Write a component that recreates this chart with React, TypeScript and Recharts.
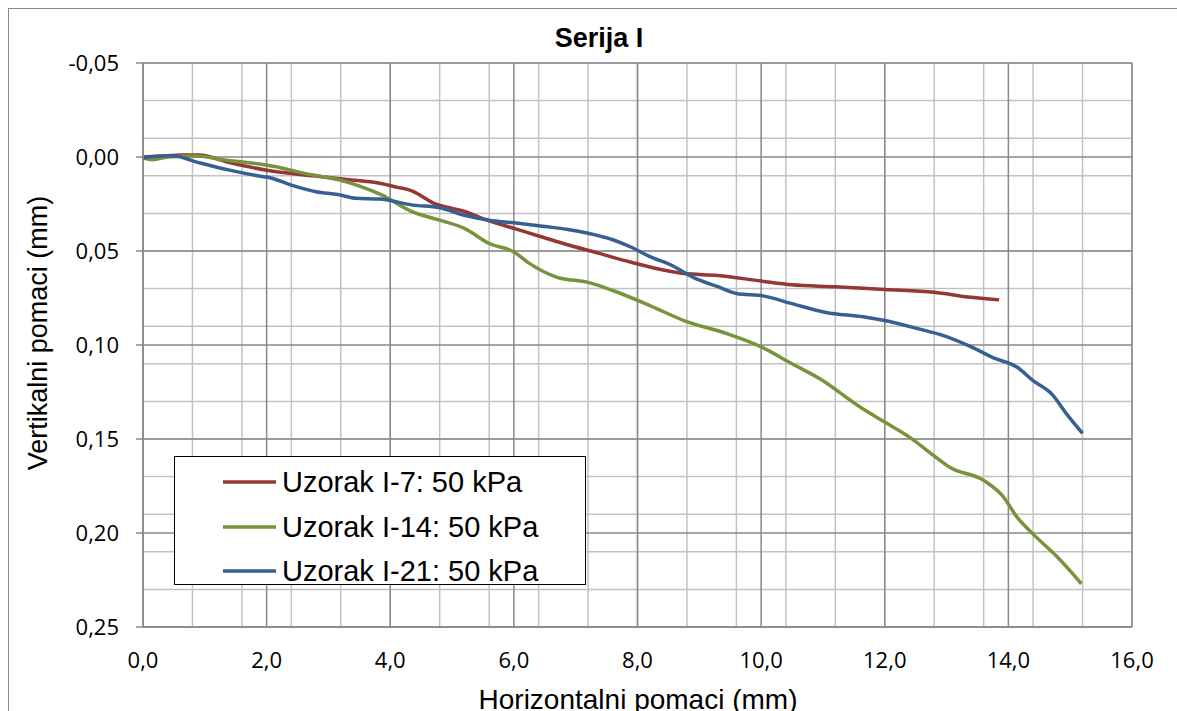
import React from "react";
import { LineChart, Line, XAxis, YAxis, CartesianGrid, Legend } from "recharts";

// ---- data ----
const seriesNames = ["Uzorak I-7: 50 kPa", "Uzorak I-14: 50 kPa", "Uzorak I-21: 50 kPa"];
const seriesColors = ["#953735", "#77933C", "#376092"];

const i7X = [0, 0.3, 0.6, 0.9, 1.4, 2.0, 2.75, 3.3, 3.83, 4.1, 4.35, 4.7, 5.2, 5.6, 6.0, 6.4, 6.8, 7.35, 7.9, 8.4, 8.75, 9.3, 10.0, 10.5, 11.2, 12.0, 12.8, 13.35, 13.85];
const i7Y = [0.0, -0.0005, -0.001, -0.001, 0.003, 0.007, 0.01, 0.012, 0.014, 0.016, 0.018, 0.0245, 0.029, 0.034, 0.038, 0.042, 0.046, 0.051, 0.056, 0.06, 0.062, 0.063, 0.066, 0.068, 0.069, 0.0705, 0.072, 0.0745, 0.076];

const i14X = [0, 0.16, 0.4, 0.87, 1.3, 2.0, 2.75, 3.15, 3.55, 3.85, 4.35, 4.8, 5.2, 5.6, 6.0, 6.25, 6.7, 7.2, 7.6, 8.2, 8.75, 9.45, 10.0, 10.5, 10.95, 11.6, 12.0, 12.4, 12.8, 13.05, 13.6, 13.9, 14.15, 14.4, 14.8, 15.05, 15.18];
const i14Y = [0.0005, 0.0015, 0.0, -0.0005, 0.0015, 0.0043, 0.0096, 0.012, 0.016, 0.02, 0.029, 0.0336, 0.038, 0.046, 0.0505, 0.0566, 0.064, 0.0667, 0.071, 0.079, 0.087, 0.094, 0.101, 0.11, 0.118, 0.133, 0.141, 0.149, 0.159, 0.165, 0.172, 0.18, 0.192, 0.2006, 0.213, 0.222, 0.227];

const i21X = [0, 0.32, 0.5, 0.87, 1.4, 1.95, 2.05, 2.4, 2.8, 3.15, 3.45, 3.83, 4.37, 4.8, 5.2, 5.6, 6.0, 6.5, 6.85, 7.2, 7.6, 7.9, 8.2, 8.55, 8.9, 9.3, 9.6, 10.05, 10.5, 11.05, 11.65, 12.0, 12.5, 12.95, 13.4, 13.75, 14.15, 14.4, 14.7, 14.95, 15.2];
const i21Y = [0.0005, -0.0005, -0.0005, 0.0027, 0.007, 0.0105, 0.011, 0.015, 0.0185, 0.02, 0.022, 0.0224, 0.0256, 0.027, 0.031, 0.0336, 0.035, 0.037, 0.0384, 0.0406, 0.044, 0.048, 0.053, 0.0576, 0.064, 0.069, 0.0726, 0.074, 0.078, 0.0827, 0.085, 0.087, 0.091, 0.095, 0.101, 0.1067, 0.112, 0.119, 0.126, 0.137, 0.147];

const xTicks = [0, 2, 4, 6, 8, 10, 12, 14, 16];
const yTicks = [-0.05, 0, 0.05, 0.1, 0.15, 0.2, 0.25];
const xMinorTicks = Array.from({ length: 41 }, (_, i) => +(i * 0.4).toFixed(2));
const yMinorTicks = Array.from({ length: 31 }, (_, i) => +(-0.05 + i * 0.01).toFixed(3));

const title = "Serija I";
const xLabel = "Horizontalni pomaci (mm)";
const yLabel = "Vertikalni pomaci (mm)";

const zip = (xs: number[], ys: number[]) => xs.map((x, i) => ({ x, y: ys[i] }));
const seriesData = [zip(i7X, i7Y), zip(i14X, i14Y), zip(i21X, i21Y)];

const fmtX = (v: number) => v.toFixed(1).replace(".", ",");
const fmtY = (v: number) => v.toFixed(2).replace(".", ",");

const W = 1177;
const H = 711;
const PLOT_LEFT = 143;
const PLOT_TOP = 63;
const PLOT_RIGHT = 1132;
const PLOT_BOTTOM = 627;

const tickFont = { fontFamily: "'Open Sans', sans-serif", fontSize: 22, fill: "#000" };

const LegendBox = (props: any) => {
  const payload = [...(props.payload || [])].sort(
    (a: any, b: any) => seriesNames.indexOf(a.value) - seriesNames.indexOf(b.value)
  );
  return (
    <div
      style={{
        width: 412,
        height: 129,
        border: "1.5px solid #000",
        background: "#fff",
        boxSizing: "border-box",
        paddingTop: 3,
      }}
    >
      {payload.map((p: any, i: number) => (
        <div key={i} style={{ display: "flex", alignItems: "center", height: 44.5 }}>
          <svg width={103} height={10} style={{ flex: "none" }}>
            <line x1={48} x2={101} y1={5} y2={5} stroke={p.color} strokeWidth={3.5} />
          </svg>
          <span
            style={{
              fontFamily: "'Liberation Sans', Arial, sans-serif",
              fontSize: 29,
              color: "#000",
              marginLeft: 4,
              lineHeight: "30px",
              whiteSpace: "nowrap",
            }}
          >
            {p.value}
          </span>
        </div>
      ))}
    </div>
  );
};

export default function App() {
  return (
    <div style={{ position: "absolute", left: 0, top: 0, width: W, height: H, overflow: "hidden", background: "#fff" }}>
      <div
        style={{
          position: "absolute",
          left: 8,
          top: 8,
          width: 1300,
          height: 1000,
          border: "1.5px solid #8a8a8a",
          boxSizing: "border-box",
        }}
      />
      <LineChart
        width={W}
        height={H}
        margin={{ top: PLOT_TOP, right: W - PLOT_RIGHT, bottom: 0, left: 0 }}
        style={{ position: "absolute", left: 0, top: 0 }}
      >
        <CartesianGrid
          stroke="#c2c2c2"
          strokeWidth={1.5}
          horizontalValues={yMinorTicks}
          verticalValues={xMinorTicks}
        />
        <CartesianGrid stroke="#898989" strokeWidth={1.5} horizontalValues={yTicks} verticalValues={xTicks} />
        <XAxis
          type="number"
          dataKey="x"
          domain={[0, 16]}
          ticks={xTicks}
          tickFormatter={fmtX}
          height={H - PLOT_BOTTOM}
          allowDataOverflow
          tickSize={0}
          tickMargin={25}
          tick={tickFont}
          axisLine={{ stroke: "#898989", strokeWidth: 1.5 }}
        />
        <YAxis
          type="number"
          dataKey="y"
          domain={[-0.05, 0.25]}
          reversed
          ticks={yTicks}
          tickFormatter={fmtY}
          width={PLOT_LEFT}
          allowDataOverflow
          tickSize={7}
          tickMargin={17}
          tick={tickFont}
          tickLine={{ stroke: "#898989", strokeWidth: 1.5 }}
          axisLine={{ stroke: "#898989", strokeWidth: 1.5 }}
        />
        <Legend
          layout="vertical"
          verticalAlign="middle"
          align="center"
          content={<LegendBox />}
          wrapperStyle={{ position: "absolute", left: 174, top: 456, width: 412, height: 129 }}
        />
        {seriesData.map((d, i) => (
          <Line
            key={seriesNames[i]}
            data={d}
            dataKey="y"
            name={seriesNames[i]}
            type="monotone"
            stroke={seriesColors[i]}
            strokeWidth={3.5}
            dot={false}
            activeDot={false}
            isAnimationActive={false}
          />
        ))}
      </LineChart>
      <svg width={W} height={H} style={{ position: "absolute", left: 0, top: 0, pointerEvents: "none" }}>
        <text
          x={599}
          y={47}
          textAnchor="middle"
          fontFamily="'Liberation Sans', Arial, sans-serif"
          fontWeight="bold"
          fontSize={27}
          fill="#000"
        >
          {title}
        </text>
        <text
          x={638}
          y={709}
          textAnchor="middle"
          fontFamily="'Liberation Sans', Arial, sans-serif"
          fontSize={28}
          fill="#000"
        >
          {xLabel}
        </text>
        <text
          x={47}
          y={333}
          textAnchor="middle"
          transform="rotate(-90 47 333)"
          fontFamily="'Liberation Sans', Arial, sans-serif"
          fontSize={27}
          fill="#000"
        >
          {yLabel}
        </text>
      </svg>
    </div>
  );
}
